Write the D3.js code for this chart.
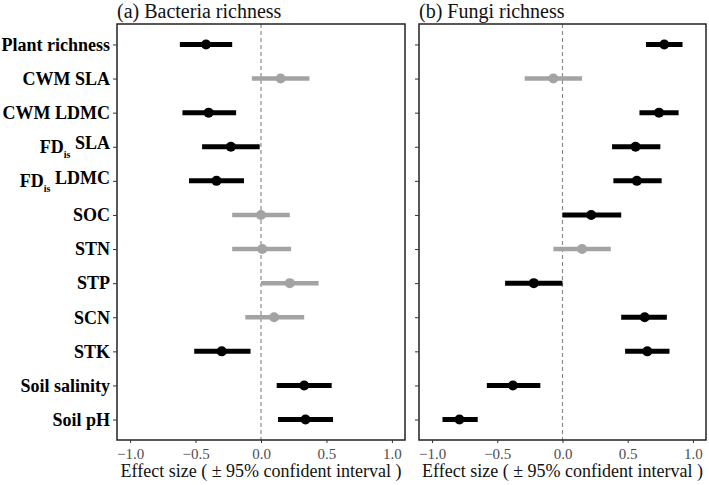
<!DOCTYPE html>
<html lang="en">
<head>
  <meta charset="UTF-8" />
  <script src="https://cdn.jsdelivr.net/npm/d3@7/dist/d3.min.js"></script>
  <style>
    body { margin: 0; background: #fff; }
    text { font-family: "Liberation Serif", "DejaVu Serif", serif; }
  </style>
</head>
<body>
  <svg width="709" height="485"></svg>
  <script>
    // predictors, top to bottom
    const predictors = ["Plant richness", "CWM SLA", "CWM LDMC", "FDis SLA", "FDis LDMC",
      "SOC", "STN", "STP", "SCN", "STK", "Soil salinity", "Soil pH"];

    // bacteria richness: estimate, lower, upper
    const bacEst = [-0.42, 0.15, -0.40, -0.23, -0.34, 0.00, 0.01, 0.22, 0.10, -0.30, 0.33, 0.34];
    const bacLo = [-0.62, -0.07, -0.60, -0.45, -0.55, -0.22, -0.22, 0.00, -0.12, -0.51, 0.12, 0.13];
    const bacHi = [-0.22, 0.37, -0.19, -0.01, -0.13, 0.22, 0.23, 0.44, 0.33, -0.08, 0.54, 0.55];
    const bacSig = [1, 0, 1, 1, 1, 0, 0, 0, 0, 1, 1, 1];

    // fungi richness
    const funEst = [0.78, -0.07, 0.74, 0.56, 0.57, 0.22, 0.15, -0.22, 0.63, 0.65, -0.38, -0.79];
    const funLo = [0.64, -0.29, 0.59, 0.38, 0.39, 0.00, -0.07, -0.44, 0.45, 0.48, -0.58, -0.92];
    const funHi = [0.92, 0.15, 0.89, 0.75, 0.76, 0.45, 0.37, 0.00, 0.80, 0.82, -0.17, -0.65];
    const funSig = [1, 0, 1, 1, 1, 1, 0, 1, 1, 1, 1, 1];

    const xTicks = [-1.0, -0.5, 0.0, 0.5, 1.0];

    const svg = d3.select("svg");
    const plotTop = 24, plotBottom = 440;

    const y = d3.scalePoint().domain(predictors).range([plotTop, plotBottom]).padding(0.6);

    const panels = [
      { title: "(a) Bacteria richness", left: 117, right: 405, est: bacEst, lo: bacLo, hi: bacHi, sig: bacSig, labels: true },
      { title: "(b) Fungi richness", left: 419, right: 706, est: funEst, lo: funLo, hi: funHi, sig: funSig, labels: false }
    ];

    const black = "#000", grey = "#a3a3a3";

    panels.forEach(p => {
      const x = d3.scaleLinear().domain([-1.1, 1.1]).range([p.left, p.right]);
      const g = svg.append("g");

      // zero line
      g.append("line")
        .attr("x1", x(0)).attr("x2", x(0))
        .attr("y1", plotTop).attr("y2", plotBottom)
        .attr("stroke", "#8c8c8c").attr("stroke-width", 1.2)
        .attr("stroke-dasharray", "4,3");

      const rows = predictors.map((d, i) => ({ name: d, est: p.est[i], lo: p.lo[i], hi: p.hi[i], sig: p.sig[i] }));

      g.selectAll("line.ci").data(rows).join("line")
        .attr("class", "ci")
        .attr("x1", d => x(d.lo)).attr("x2", d => x(d.hi))
        .attr("y1", d => y(d.name)).attr("y2", d => y(d.name))
        .attr("stroke", d => d.sig ? black : grey)
        .attr("stroke-width", d => d.sig ? 5 : 4.5);

      g.selectAll("circle").data(rows).join("circle")
        .attr("cx", d => x(d.est)).attr("cy", d => y(d.name))
        .attr("r", 5)
        .attr("fill", d => d.sig ? black : grey);

      // frame
      g.append("rect")
        .attr("x", p.left).attr("y", plotTop)
        .attr("width", p.right - p.left).attr("height", plotBottom - plotTop)
        .attr("fill", "none").attr("stroke", "#222").attr("stroke-width", 1.5);

      // x axis
      const xa = g.append("g").attr("transform", `translate(0,${plotBottom})`)
        .call(d3.axisBottom(x).tickValues(xTicks).tickFormat(d3.format(".1f")).tickSize(3).tickSizeOuter(0));
      xa.select(".domain").remove();
      xa.selectAll("line").attr("stroke", "#333");
      xa.selectAll("text").attr("font-size", 15).attr("fill", "#4d4d4d").attr("dy", "0.85em");

      // y axis ticks
      const ya = g.append("g").attr("transform", `translate(${p.left},0)`)
        .call(d3.axisLeft(y).tickSize(4).tickSizeOuter(0).tickPadding(3));
      ya.select(".domain").remove();
      ya.selectAll("line").attr("stroke", "#333");
      if (p.labels) {
        ya.selectAll("text")
          .attr("font-size", 18).attr("font-weight", "bold").attr("fill", "#000")
          .each(function (d) {
            if (d.startsWith("FDis")) {
              const t = d3.select(this).text("");
              t.append("tspan").text("FD");
              t.append("tspan").text("is").attr("font-size", 10).attr("dy", "0.45em");
              t.append("tspan").text(" " + d.slice(5)).attr("dy", "-0.45em");
            }
          });
      } else {
        ya.selectAll("text").remove();
      }

      // title
      svg.append("text")
        .attr("x", p.left).attr("y", 18)
        .attr("font-size", 20).attr("fill", "#111")
        .text(p.title);

      // x title
      svg.append("text")
        .attr("x", (p.left + p.right) / 2).attr("y", 477)
        .attr("text-anchor", "middle")
        .attr("font-size", 18).attr("fill", "#111")
        .text("Effect size ( ± 95% confident interval )");
    });
  </script>
</body>
</html>
